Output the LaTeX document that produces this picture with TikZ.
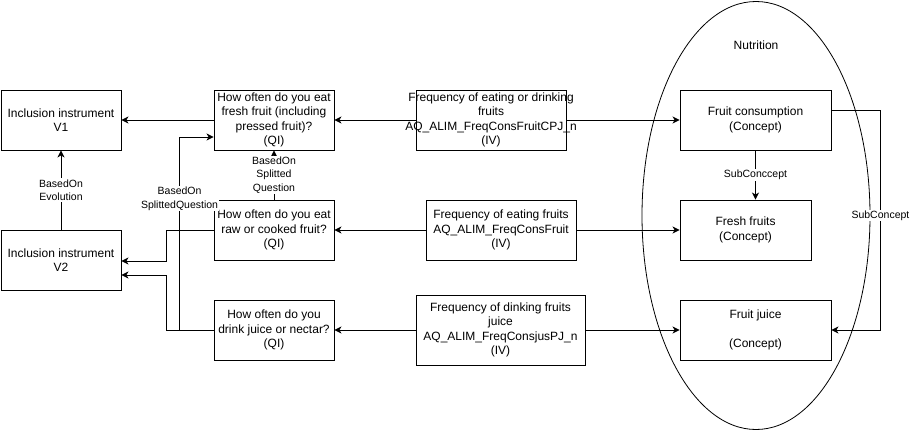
\documentclass[tikz,border=0pt]{standalone}
\usepackage{fontspec}
\setmainfont{Liberation Sans}
\usetikzlibrary{arrows.meta,positioning,shapes.geometric}
\begin{document}
\begin{tikzpicture}[x=1pt,y=-1pt,
  box/.style={draw, line width=0.9pt, rectangle, inner sep=0pt, align=center,
    font=\fontsize{12}{14.3}\selectfont},
  arr/.style={line width=0.9pt, -{Stealth[length=7pt,width=7pt,inset=2pt]}},
  plain/.style={line width=0.9pt},
  lbl/.style={fill=white, inner sep=1pt, align=center, font=\fontsize{10.5}{13.5}\selectfont}]
\useasboundingbox (0,0) rectangle (910,431);
% ellipse
\node[draw, line width=0.8pt, ellipse, minimum width=228, minimum height=428, inner sep=0pt] (nut) at (756,215.5) {};
\node[font=\fontsize{12}{14}\selectfont] (nuttxt) at (756,45) {Nutrition};
% left column
\node[box, minimum width=120, minimum height=60] (V1) at (61,120) {Inclusion instrument\\V1};
\node[box, minimum width=120, minimum height=60] (V2) at (61,260) {Inclusion instrument\\V2};
% questions
\node[box, minimum width=120, minimum height=60] (Q1) at (274,120) {How often do you eat\\fresh fruit (including\\pressed fruit)?\\(QI)};
\node[box, minimum width=120, minimum height=60] (Q2) at (274,230) {How often do you eat\\raw or cooked fruit?\\(QI)};
\node[box, minimum width=120, minimum height=60] (Q3) at (274,330) {How often do you\\drink juice or nectar?\\(QI)};
% variables
\node[box, minimum width=150, minimum height=60] (IV1) at (491,120) {\makebox[0pt]{Frequency of eating or drinking}\\\makebox[0pt]{fruits}\\\makebox[0pt]{AQ\_ALIM\_FreqConsFruitCPJ\_n}\\\makebox[0pt]{(IV)}};
\node[box, minimum width=150, minimum height=60] (IV2) at (501,230) {Frequency of eating fruits\\AQ\_ALIM\_FreqConsFruit\\(IV)};
\node[box, minimum width=169, minimum height=70] (IV3) at (500.5,330) {Frequency of dinking fruits\\juice\\AQ\_ALIM\_FreqConsjusPJ\_n\\(IV)};
% concepts
\node[box, minimum width=151, minimum height=60] (C1) at (755.5,120) {Fruit consumption\\(Concept)};
\node[box, minimum width=131, minimum height=60] (C2) at (745.5,230) {Fresh fruits\\(Concept)};
\node[box, minimum width=151, minimum height=60] (C3) at (755.5,330) {Fruit juice\\\strut\\(Concept)};
% connectors
\draw[arr] (IV1.west) -- (Q1.east);
\draw[arr] (IV1.east) -- (C1.west);
\draw[arr] (IV2.west) -- (Q2.east);
\draw[arr] (IV2.east) -- (C2.west);
\draw[arr] (IV3.west) -- (Q3.east);
\draw[arr] (IV3.east) -- (C3.west);
\draw[arr] (Q1.west) -- (V1.east);
\draw[arr] (V2.north) -- node[lbl] {BasedOn\\Evolution} (V1.south);
\draw[arr] (Q2.north) -- node[lbl] {BasedOn\\Splitted\\Question} (Q1.south);
\draw[arr] (Q2.west) -- ++(-47,0) |- ([yshift=-1pt]V2.east);
\draw[arr] (Q3.west) -- ++(-47,0) |- ([yshift=-15pt]V2.east);
\draw[arr] (Q3.west) -- ++(-34,0) |- node[lbl, pos=0.34] {BasedOn\\SplittedQuestion} ([yshift=-17pt]Q1.west);
\draw[arr] (C1.south) -- node[lbl] {SubConccept} (C1.south |- C2.north);
\draw[arr] ([yshift=10pt]C1.east) -- ++(49,0) |- node[lbl, pos=0.24] {SubConcept} (C3.east);
\end{tikzpicture}
\end{document}
